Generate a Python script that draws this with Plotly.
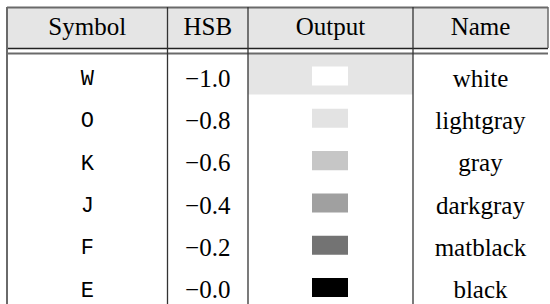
import plotly.graph_objects as go

# ---- data ----
headers = ["Symbol", "HSB", "Output", "Name"]
symbols = ["W", "O", "K", "J", "F", "E"]
hsb = ["\u22121.0", "\u22120.8", "\u22120.6", "\u22120.4", "\u22120.2", "\u22120.0"]
names = ["white", "lightgray", "gray", "darkgray", "matblack", "black"]
swatch_colors = ["#ffffff", "#e3e3e3", "#c6c6c6", "#a0a0a0", "#737373", "#000000"]
highlight_row = 0

# ---- layout geometry (pixels) ----
W, H = 550, 304
col_edges = [7, 167.5, 248, 413, 548]
ROW0, ROWH = 77.5, 42.3          # pixel centre of first body row, row height
def r(py):                        # pixel -> row units
    return (py - ROW0) / ROWH

col_centers = [(col_edges[i] + col_edges[i + 1]) / 2 for i in range(4)]
rows = list(range(len(symbols)))
header_row = r(29)

serif = "Liberation Serif"
mono = "Liberation Mono"

fig = go.Figure()
shapes = []

# header background
shapes.append(dict(type="rect", xref="x", yref="y", x0=col_edges[0], x1=col_edges[-1],
                   y0=r(7), y1=r(48), fillcolor="#e5e5e5", line_width=0, layer="below"))
# highlighted output cell
shapes.append(dict(type="rect", xref="x", yref="y", x0=col_edges[2], x1=col_edges[3],
                   y0=r(54), y1=r(94.5), fillcolor="#e5e5e5", line_width=0, layer="below"))

# swatches
for i, c in zip(rows, swatch_colors):
    shapes.append(dict(type="rect", xref="x", yref="y", x0=312, x1=348,
                       y0=i - 0.26, y1=i + 0.19, fillcolor=c, line_width=0))

# horizontal rules
shapes.append(dict(type="line", xref="x", yref="y", x0=col_edges[0], x1=col_edges[-1],
                   y0=r(7.5), y1=r(7.5), line=dict(color="#6a6a6a", width=2)))
shapes.append(dict(type="line", xref="x", yref="y", x0=col_edges[0], x1=col_edges[-1],
                   y0=r(48.5), y1=r(48.5), line=dict(color="#222222", width=1.3)))
shapes.append(dict(type="line", xref="x", yref="y", x0=col_edges[0], x1=col_edges[-1],
                   y0=r(53.5), y1=r(53.5), line=dict(color="#6a6a6a", width=2)))
# vertical rules
shapes.append(dict(type="line", xref="x", yref="y", x0=col_edges[0], x1=col_edges[0],
                   y0=r(7), y1=r(H + 5), line=dict(color="#6a6a6a", width=2)))
for xe in col_edges[1:4]:
    shapes.append(dict(type="line", xref="x", yref="y", x0=xe, x1=xe,
                       y0=r(7), y1=r(H + 5), line=dict(color="#333333", width=1.3)))
shapes.append(dict(type="line", xref="x", yref="y", x0=col_edges[-1], x1=col_edges[-1],
                   y0=r(7), y1=r(48), line=dict(color="#6a6a6a", width=1.5)))

# header text
fig.add_trace(go.Scatter(x=col_centers, y=[header_row] * 4, mode="text", text=headers,
                         textfont=dict(family=serif, size=25, color="black"),
                         hoverinfo="skip", showlegend=False))
# body text
fig.add_trace(go.Scatter(x=[col_centers[0]] * len(rows), y=[i + 0.05 for i in rows], mode="text",
                         text=symbols, textfont=dict(family=mono, size=22, color="black"),
                         hoverinfo="skip", showlegend=False))
fig.add_trace(go.Scatter(x=[col_centers[1]] * len(rows), y=[i + 0.07 for i in rows], mode="text",
                         text=hsb, textfont=dict(family=serif, size=25, color="black"),
                         hoverinfo="skip", showlegend=False))
fig.add_trace(go.Scatter(x=[col_centers[3]] * len(rows), y=[i + 0.07 for i in rows], mode="text",
                         text=names, textfont=dict(family=serif, size=25, color="black"),
                         hoverinfo="skip", showlegend=False))

fig.update_layout(
    width=W, height=H, margin=dict(l=0, r=0, t=0, b=0),
    paper_bgcolor="white", plot_bgcolor="white", shapes=shapes,
    xaxis=dict(range=[0, W], visible=False, fixedrange=True),
    yaxis=dict(range=[r(H), r(0)], visible=False, fixedrange=True),
)
fig.write_html("out.html", config={"displayModeBar": False},
               post_script="document.body.style.margin='0';")
